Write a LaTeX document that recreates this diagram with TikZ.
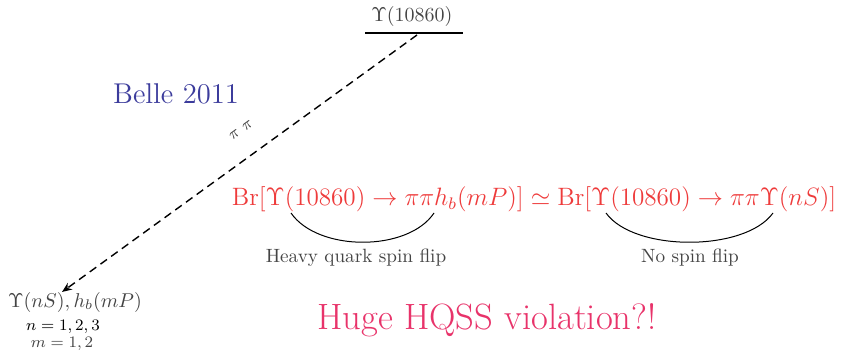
\documentclass[tikz,border=0pt]{standalone}
\usepackage{amsmath}
\usepackage{graphicx}
\usepackage{xcolor}
\usepackage{tikz}
\usetikzlibrary{arrows.meta,positioning}
\definecolor{bellblue}{HTML}{3C3C9C}
\definecolor{brred}{HTML}{EE3B3B}
\definecolor{hqpink}{HTML}{E8336A}
\definecolor{txtgray}{HTML}{444444}

\begin{document}
\begin{tikzpicture}[
  x=0.5pt,y=-0.5pt,
  lvl/.style={line width=1.2pt,color=black},
  decay/.style={-{Stealth[length=5pt,width=4pt]},dash pattern=on 4pt off 2.6pt,line width=0.7pt},
  brace/.style={line width=0.5pt,color=black},
  lbl/.style={font=\fontsize{9.6}{11}\selectfont,text=txtgray,inner sep=1pt},
  smalllbl/.style={font=\footnotesize,text=txtgray,inner sep=1pt}
]
  \useasboundingbox (0,0) rectangle (841,352);
  % initial state
  \node[lbl] (init) at (412,17) {$\Upsilon(10860)$};
  \coordinate (lvlL) at (365,33);
  \coordinate (lvlR) at (463,33);
  \draw[lvl] (lvlL) -- (lvlR);
  % final states
  \node[lbl] (final) at (75,302) {$\Upsilon(nS),h_b(mP)$};
  \node[smalllbl,text=black] (nval) at (63,327) {$n=1,2,3$};
  \node[smalllbl] (mval) at (62,344) {$m=1,2$};
  \coordinate (top) at (417,35);
  \coordinate (bot) at (62,292);
  \draw[decay] (top) -- (bot);
  \node[smalllbl,rotate=36] (pipi) at (241,130) {$\pi\ \pi$};
  % labels
  \node[font=\fontsize{14.3}{17}\selectfont,text=bellblue] (belle) at (176,94) {Belle 2011};
  \node[font=\large,text=brred] (br) at (534,199)
    {\scalebox{1.047}{Br$[\Upsilon(10860)\to\pi\pi h_b(mP)]\simeq{}$Br$[\Upsilon(10860)\to\pi\pi\Upsilon(nS)]$}};
  \coordinate (a1) at (291,213);
  \coordinate (a2) at (434,213);
  \coordinate (b1) at (606,213);
  \coordinate (b2) at (773,213);
  \draw[brace] (a1) .. controls (318,252) and (408,252) .. (a2);
  \draw[brace] (b1) .. controls (634,252) and (745,252) .. (b2);
  \node[lbl] (spin) at (356,258) {Heavy quark spin flip};
  \node[lbl] (nospin) at (690,258) {No spin flip};
  \node[font=\fontsize{18.3}{22}\selectfont,text=hqpink] (hqss) at (487,320) {Huge HQSS violation?!};
\end{tikzpicture}
\end{document}
